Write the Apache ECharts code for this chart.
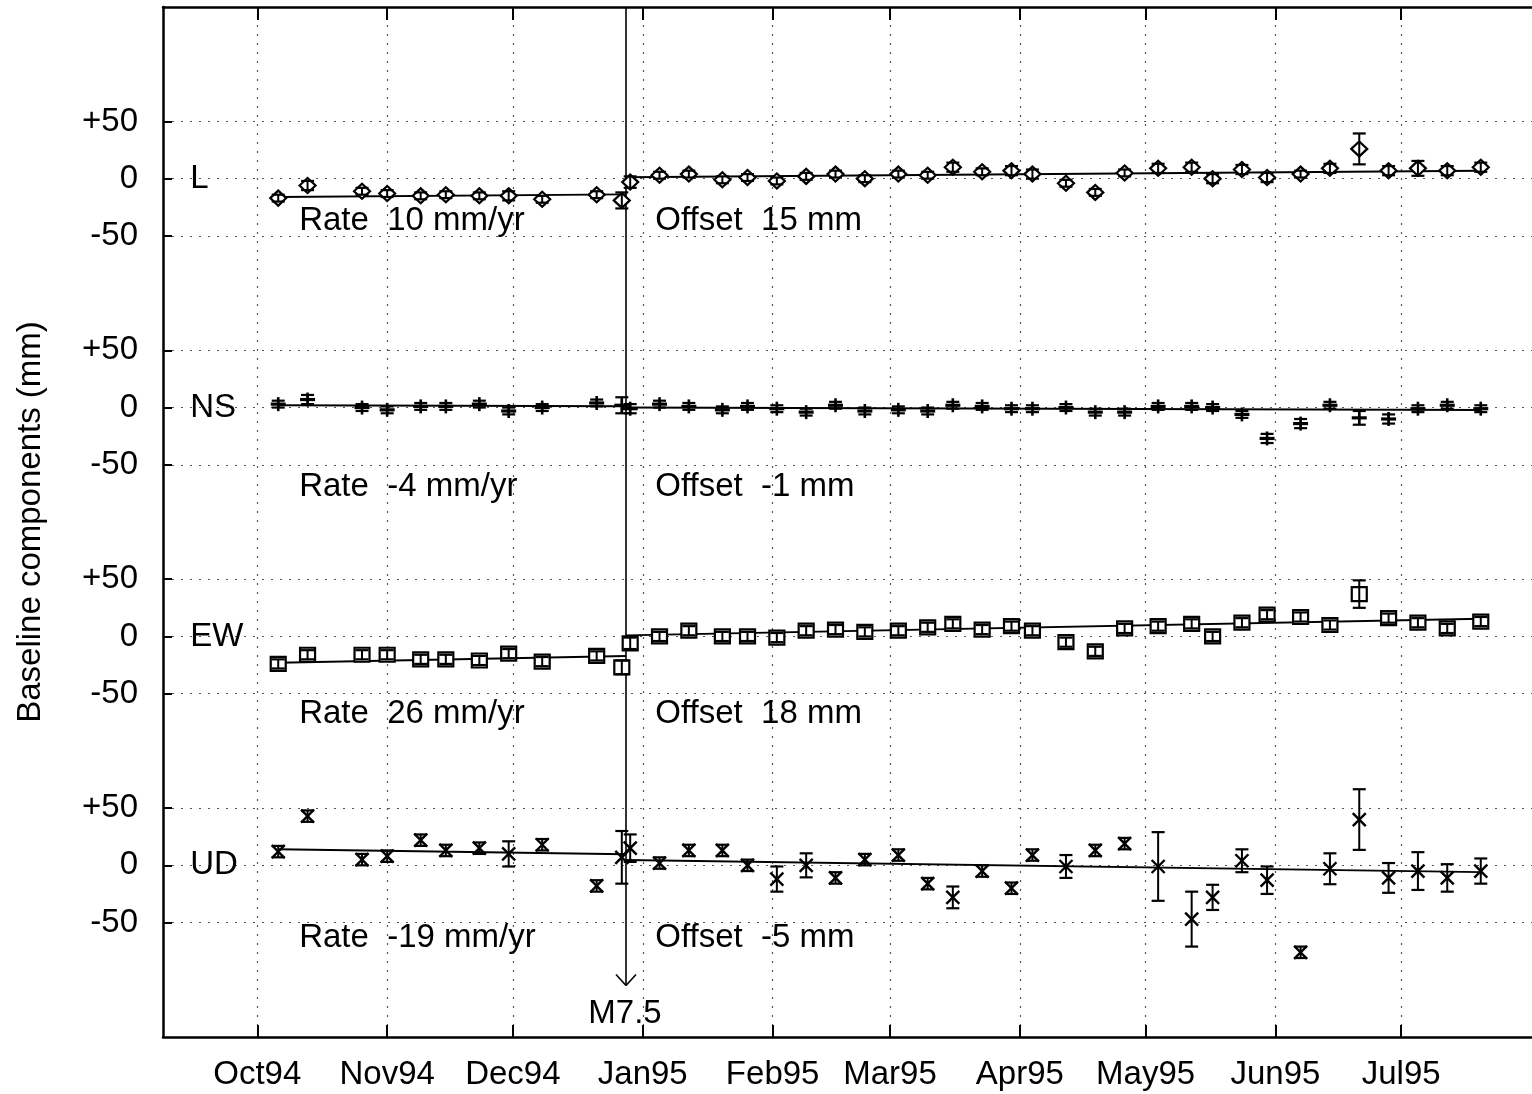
<!DOCTYPE html>
<html>
<head>
<meta charset="utf-8">
<script src="https://cdn.jsdelivr.net/npm/echarts@6/dist/echarts.min.js"></script>
<style>
  html, body { margin: 0; padding: 0; background: #fff; }
  #chart { width: 1532px; height: 1094px; }
</style>
</head>
<body>
<div id="chart"></div>
<script>
// ---- data -------------------------------------------------------------
// GPS session epochs
const epochs = ['1994-10-06','1994-10-13','1994-10-26','1994-11-01','1994-11-09','1994-11-15',
  '1994-11-23','1994-11-30','1994-12-08','1994-12-21','1994-12-27','1994-12-29','1995-01-05',
  '1995-01-12','1995-01-20','1995-01-26','1995-02-02','1995-02-09','1995-02-16','1995-02-23',
  '1995-03-03','1995-03-10','1995-03-16','1995-03-23','1995-03-30','1995-04-04','1995-04-12',
  '1995-04-19','1995-04-26','1995-05-04','1995-05-12','1995-05-17','1995-05-24','1995-05-30',
  '1995-06-07','1995-06-14','1995-06-21','1995-06-28','1995-07-05','1995-07-12','1995-07-20'];

// baseline components (mm) and their 1-sigma errors (mm)
const lengthL = [-17,-6,-11,-13,-15,-14,-15,-15,-18,-14,-19,-3,3,4,-1,1,-2,2,4,0,4,3,10,6,7,4,-4,-12,5,9,10,0,8,1,4,9,26,7,9,7,10];
const lengthErr = [3,4,3,3,3,3,3,4,3,3,7,5,3,3,3,3,3,3,3,3,3,3,4,3,4,4,3,3,3,4,4,4,4,4,3,4,13.5,4,6.5,4,4];

const northSouth = [3,7,0,-2,1,1,3,-3,0,4,2,-1,3,1,-2,1,-1,-4,2,-3,-2,-3,2,1,-1,-1,0,-4,-4,1,1,0,-6,-27,-14,2,-9,-10,-1,2,-1];
const northSouthErr = [3,4,3,3,3,3,3,3,3,3,7,4,3,3,3,3,3,3,3,3,3,3,3,3,3,3,3,3,3,3,3,3,3,4,4,3,6,4,3,3,3];

const eastWest = [-24,-16,-16,-16,-20,-20,-21,-15,-22,-17,-27,-6,0,5,0,0,-1,5,6,4,5,8,11,6,9,5,-5,-13,7,9,11,0,12,19,17,10,37,16,12,7,13];
const eastWestErr = [4,4,4,4,4,4,4,4,4,4,6,5,4,4,4,4,4,4,4,4,4,4,4,4,4,4,4,4,4,4,4,4,4,4,4,4,12,4,4,4,4];

const upDown = [12,43,5,8,22,13,15,10,18,-18,7,15,2,13,13,0,-12,0,-11,5,9,-16,-28,-5,-20,9,-1,13,19,-1,-47,-28,4,-13,-76,-3,40,-11,-5,-11,-5];
const upDownErr = [5,5,5,5,5,5,5,11,5,5,23,12,5,5,5,5,11,10.5,5,5,5,5,9.5,5,5,5,10,5,5,30,24,11,10,12,5,13.5,26.5,13,16.5,12,11];

// component names, fitted rates (mm/yr), co-seismic offsets (mm), fit value at first epoch (mm)
const components = ['L', 'NS', 'EW', 'UD'];
const rates = [10, -4, 26, -19];
const offsets = [15, -1, 18, -5];
const fitStart = [-16, 2, -23, 14];

// earthquake
const quakeDate = '1994-12-28';
const quakeLabel = 'M7.5';

// axis ticks
const monthDates = ['1994-10-01','1994-11-01','1994-12-01','1995-01-01','1995-02-01',
  '1995-03-01','1995-04-01','1995-05-01','1995-06-01','1995-07-01'];
const monthLabels = ['Oct94','Nov94','Dec94','Jan95','Feb95','Mar95','Apr95','May95','Jun95','Jul95'];
const tickRel = [50, 0, -50];
const tickText = ['+50', '0', '-50'];

// ---- layout -----------------------------------------------------------
const FONT = "'Liberation Sans', Arial, Helvetica, sans-serif";
const FS = 33;
const panelShift = [600, 400, 200, 0];          // vertical stacking of the four panels (mm)
const nameDate = '1994-09-15';
const rateDate = '1994-10-11';
const offsetDate = '1995-01-04';
const noteRel = [-37, -69, -68, -63];           // text rows under each panel (mm)
const arrowTip = -105;

const DAY = 864e5;
const toTime = s => { const p = s.split('-').map(Number); return Date.UTC(p[0], p[1] - 1, p[2]); };
const xMin = toTime('1994-09-08') + DAY / 2;
const xMax = toTime('1995-08-06');
const yMin = -150, yMax = 750;

const series = [lengthL, northSouth, eastWest, upDown];
const errors = [lengthErr, northSouthErr, eastWestErr, upDownErr];
const shapes = ['diamond', 'plus', 'square', 'cross'];
const epochTimes = epochs.map(toTime);
const monthTimes = monthDates.map(toTime);
const tQuake = toTime(quakeDate);

const yTicks = [];
const yTickLabel = {};
panelShift.forEach(off => tickRel.forEach((r, i) => { yTicks.push(off + r); yTickLabel[off + r] = tickText[i]; }));

// ---- renderers --------------------------------------------------------
const INK = '#000';
function pointRenderer(shape) {
  return function (params, api) {
    const t = api.value(0), v = api.value(1), e = api.value(2);
    const c = api.coord([t, v]);
    const top = api.coord([t, v + e])[1];
    const bot = api.coord([t, v - e])[1];
    const x = c[0], y = c[1];
    const kids = [];
    const seg = (x1, y1, x2, y2, w) => ({ type: 'line', shape: { x1, y1, x2, y2 }, style: { stroke: INK, lineWidth: w || 1.8 } });
    if (shape === 'diamond') {
      kids.push({ type: 'polygon', shape: { points: [[x - 8, y], [x, y - 7.5], [x + 8, y], [x, y + 7.5]] },
        style: { fill: '#fff', stroke: INK, lineWidth: 2.2 } });
    } else if (shape === 'square') {
      kids.push({ type: 'rect', shape: { x: x - 7.5, y: y - 7, width: 15, height: 14 },
        style: { fill: '#fff', stroke: INK, lineWidth: 2.2 } });
    } else if (shape === 'plus') {
      kids.push(seg(x - 7.5, y, x + 7.5, y, 3.2));
      kids.push(seg(x, y - 7, x, y + 7, 2.6));
    } else {
      kids.push(seg(x - 6.5, y - 6.5, x + 6.5, y + 6.5, 2.4));
      kids.push(seg(x - 6.5, y + 6.5, x + 6.5, y - 6.5, 2.4));
    }
    const cap = 6.5;
    kids.push(seg(x, top, x, bot, 2));
    kids.push(seg(x - cap, top, x + cap, top, 2.2));
    kids.push(seg(x - cap, bot, x + cap, bot, 2.2));
    return { type: 'group', children: kids };
  };
}

function fitRenderer(params, api) {
  const p0 = api.coord([api.value(0), api.value(2)]);
  const p1 = api.coord([api.value(1), api.value(3)]);
  return { type: 'line', shape: { x1: p0[0], y1: p0[1], x2: p1[0], y2: p1[1] },
    style: { stroke: INK, lineWidth: 1.9 } };
}

// fitted piecewise lines: linear trend with a step at the earthquake
const YEAR = 365.25 * DAY;
const fitData = [];
series.forEach((vals, k) => {
  const t0 = epochTimes[0], t1 = epochTimes[epochTimes.length - 1];
  const vq = fitStart[k] + rates[k] * (tQuake - t0) / YEAR;
  const vq2 = vq + offsets[k];
  const ve = vq2 + rates[k] * (t1 - tQuake) / YEAR;
  fitData.push([t0, tQuake, fitStart[k] + panelShift[k], vq + panelShift[k]]);
  fitData.push([tQuake, t1, vq2 + panelShift[k], ve + panelShift[k]]);
});

// text annotations
const notes = [];
components.forEach((name, k) => {
  notes.push({ value: [toTime(nameDate), panelShift[k]], text: name });
  notes.push({ value: [toTime(rateDate), panelShift[k] + noteRel[k]], text: 'Rate  ' + rates[k] + ' mm/yr' });
  notes.push({ value: [toTime(offsetDate), panelShift[k] + noteRel[k]], text: 'Offset  ' + offsets[k] + ' mm' });
});

function noteRenderer(params, api) {
  const c = api.coord([api.value(0), api.value(1)]);
  return { type: 'text', x: c[0], y: c[1],
    style: { text: notes[params.dataIndex].text, fontSize: FS, fontFamily: FONT, fill: INK,
      align: 'left', verticalAlign: 'middle' } };
}

function quakeRenderer(params, api) {
  const t = api.value(0);
  const a = api.coord([t, api.value(1)]);
  const b = api.coord([t, api.value(2)]);
  const st = { stroke: INK, lineWidth: 1.6 };
  return { type: 'group', children: [
    { type: 'line', shape: { x1: a[0], y1: a[1], x2: b[0], y2: b[1] }, style: st },
    { type: 'line', shape: { x1: b[0] - 10, y1: b[1] - 11, x2: b[0], y2: b[1] }, style: st },
    { type: 'line', shape: { x1: b[0] + 10, y1: b[1] - 11, x2: b[0], y2: b[1] }, style: st },
    { type: 'text', x: b[0] - 1, y: b[1] + 28,
      style: { text: quakeLabel, fontSize: FS, fontFamily: FONT, fill: INK, align: 'center', verticalAlign: 'middle' } }
  ] };
}

// ---- chart ------------------------------------------------------------
const chart = echarts.init(document.getElementById('chart'));
const dotted = { color: '#555', width: 1.2, type: [2, 7] };

const option = {
  backgroundColor: '#fff',
  animation: false,
  grid: { left: 163, top: 7, right: -20, bottom: 57, outerBoundsMode: 'none', containLabel: false },
  xAxis: [{
    type: 'value', min: xMin, max: xMax, position: 'bottom',
    axisLine: { show: true, onZero: false, lineStyle: { color: INK, width: 2.5 } },
    axisTick: { show: true, inside: true, length: 12, customValues: monthTimes, lineStyle: { color: INK, width: 2 } },
    axisLabel: { show: true, customValues: monthTimes, margin: 21, color: INK, fontSize: FS, fontFamily: FONT,
      formatter: v => { const i = monthTimes.indexOf(v); return i >= 0 ? monthLabels[i] : ''; } },
    splitLine: { show: true, lineStyle: dotted }
  }, {
    type: 'value', min: xMin, max: xMax, position: 'top',
    axisLine: { show: true, onZero: false, lineStyle: { color: INK, width: 2.5 } },
    axisTick: { show: true, inside: true, length: 13, customValues: monthTimes, lineStyle: { color: INK, width: 2 } },
    axisLabel: { show: false },
    splitLine: { show: false }
  }],
  yAxis: {
    type: 'value', min: yMin, max: yMax,
    name: 'Baseline components (mm)', nameLocation: 'middle', nameRotate: 90, nameGap: 116,
    nameTextStyle: { color: INK, fontSize: FS, fontFamily: FONT },
    axisLine: { show: true, onZero: false, lineStyle: { color: INK, width: 2.5 } },
    axisTick: { show: true, inside: true, length: 9, customValues: yTicks, lineStyle: { color: INK, width: 2 } },
    axisLabel: { show: true, customValues: yTicks, margin: 25, color: INK, fontSize: FS, fontFamily: FONT,
      formatter: v => yTickLabel[v] !== undefined ? yTickLabel[v] : '' },
    splitLine: { show: true, lineStyle: dotted }
  },
  series: [
    { type: 'custom', name: 'fit', renderItem: fitRenderer, data: fitData,
      encode: { x: [0, 1], y: [2, 3] }, z: 2, silent: true },
    { type: 'custom', name: 'earthquake', renderItem: quakeRenderer, data: [[tQuake, yMax, arrowTip]],
      encode: { x: 0, y: [1, 2] }, z: 3, silent: true, clip: false }
  ].concat(series.map((vals, k) => ({
    type: 'custom', name: components[k], renderItem: pointRenderer(shapes[k]),
    data: vals.map((v, i) => [epochTimes[i], v + panelShift[k], errors[k][i]]),
    encode: { x: 0, y: 1 }, z: 4, silent: true
  }))).concat([
    { type: 'custom', name: 'notes', renderItem: noteRenderer, data: notes.map(n => n.value),
      encode: { x: 0, y: 1 }, z: 5, silent: true, clip: false }
  ])
};
chart.setOption(option);
</script>
</body>
</html>
